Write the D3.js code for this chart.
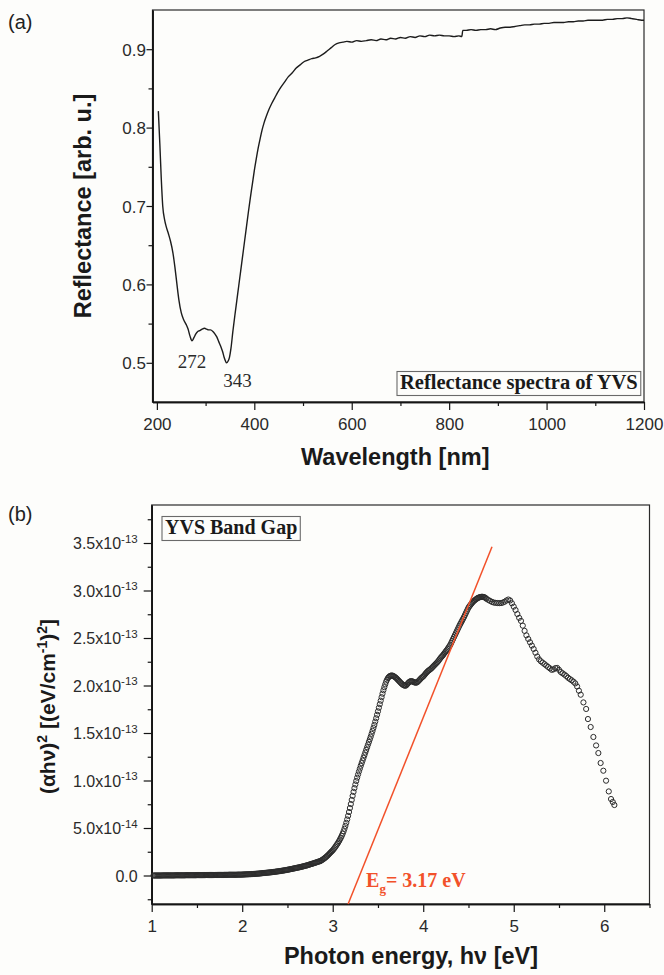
<!DOCTYPE html>
<html>
<head>
<meta charset="utf-8">
<script src="https://cdn.jsdelivr.net/npm/d3@7"></script>
<style>
  html, body { margin: 0; padding: 0; background: #fdfdfb; }
  svg { display: block; }
</style>
</head>
<body>
<svg id="fig" width="664" height="975"></svg>
<script>
// ---------- (a) diffuse reflectance spectrum: [wavelength nm, reflectance] ----------
const reflectanceSpectrum = [
  [203,.821],[206,.780],[209,.735],[212,.700],[216,.682],[219,.674],[224,.664],[228,.655],
  [233,.640],[237,.622],[241,.601],[245,.581],[250,.564],[255,.555],[260,.549],[264,.543],
  [268,.534],[272,.528],[276,.532],[280,.537],[284,.540],[288,.541],[293,.543],[298,.544],
  [302,.543],[306,.542],[310,.542],[315,.540],[319,.537],[323,.533],[327,.527],[331,.521],
  [335,.514],[338,.507],[341,.502],[343,.500],[346,.502],[349,.507],[352,.518],[356,.540],
  [360,.560],[364,.579],[368,.598],[372,.617],[376,.636],[380,.655],[384,.674],[388,.693],
  [392,.711],[396,.728],[400,.745],[404,.760],[408,.774],[412,.786],[416,.797],[420,.806],
  [425,.815],[430,.823],[436,.831],[442,.838],[448,.845],[455,.852],[462,.858],[470,.865],
  [478,.870],[486,.876],[494,.880],[502,.884],[510,.886],[518,.888],[526,.889],[534,.891],
  [542,.894],[550,.898],[558,.902],[566,.906],[574,.908],[582,.909],[590,.910],[600,.909],
  [610,.911],[620,.910],[630,.911],[640,.912],[650,.911],[660,.913],[670,.912],[680,.914],
  [690,.913],[700,.915],[710,.914],[720,.916],[730,.915],[740,.917],[750,.916],[760,.918],
  [770,.917],[780,.918],[790,.917],[800,.917],[810,.916],[820,.917],[826,.916],[828,.924],
  [835,.924],[845,.925],[855,.924],[865,.925],[875,.925],[885,.926],[895,.925],[905,.927],
  [915,.928],[925,.928],[935,.929],[945,.930],[955,.931],[965,.931],[975,.932],[985,.932],
  [995,.933],[1005,.933],[1015,.934],[1025,.934],[1035,.934],[1045,.935],[1055,.935],[1065,.936],
  [1075,.936],[1085,.937],[1095,.937],[1105,.937],[1115,.937],[1125,.938],[1135,.938],[1145,.939],
  [1155,.939],[1165,.940],[1175,.939],[1185,.938],[1195,.937],[1200,.937]
];
const reflectanceMinima = [272, 343];
const wavelengthTicks = [200, 400, 600, 800, 1000, 1200];
const wavelengthMinorTicks = [300, 500, 700, 900, 1100];
const reflectanceTicks = [0.5, 0.6, 0.7, 0.8, 0.9];
const reflectanceMinorTicks = [0.55, 0.65, 0.75, 0.85];

// ---------- (b) Tauc plot, (alpha*h*nu)^2 in units of 1e-13 ----------
// evenly sampled energy blocks: [first energy eV, step eV]
const lowGridEv = [1.02, 0.01];
const lowValues = [
  0,0,0,0,0,0,0,0,
  0,0,.001,.001,.001,.001,.001,.001,.001,.001,
  .001,.001,.001,.001,.001,.001,.002,.002,.002,.002,
  .002,.002,.002,.002,.002,.002,.002,.002,.003,.003,
  .003,.003,.003,.003,.003,.003,.003,.003,.003,.003,
  .004,.004,.004,.004,.004,.004,.004,.004,.004,.004,
  .005,.005,.005,.005,.005,.005,.005,.005,.005,.005,
  .006,.006,.006,.006,.006,.006,.006,.006,.006,.006,
  .007,.007,.007,.007,.007,.008,.008,.008,.008,.008,
  .008,.008,.008,.008,.008,.009,.009,.009,.009,.009,
  .010,.010,.011,.011,.012,.012,.013,.013,.014,.014,
  .015,.015,.016,.017,.017,.018,.019,.019,.020,.021,
  .022,.023,.024,.025,.026,.027,.028,.029,.030,.031,
  .032,.033,.034,.035,.036,.038,.039,.040,.042,.043,
  .044,.046,.047,.049,.050,.052,.053,.055,.057,.058,
  .060,.062,.064,.066,.068,.070,.072,.074,.076,.078,
  .080,.082,.084,.086,.088,.091,.093,.095,.098,.100,
  .103,.105,.108,.111,.114,.117,.120,.123,.126,.129,
  .132,.135,.139,.142,.145,.149
];
const edgeGridEv = [2.86, 0.01];
const edgeValues = [
  .150,.156,.162,.168,.175,.182,.190,.198,.207,.216,
  .226,.236,.246,.255,.265,.277,.290,.303,.317,.331,
  .346,.362,.380,.398,.418,.440,.465,.492,.522,.555,
  .590,.628,.668,.710,.752,.795,.838,.880,.920,.958,
  .995,1.030,1.063,1.095,1.125,1.155,1.183,1.210,1.238,1.266,
  1.294,1.322,1.350,1.378,1.406,1.434,1.462,1.492,1.522,1.553,
  1.585,1.620,1.655,1.692,1.728,1.766,1.803,1.840,1.877,1.914,
  1.950,1.982,2.012,2.040,2.062,2.078,2.090,2.098,2.103,2.105,
  2.104,2.100,2.094,2.087,2.080,2.070,2.060,2.050,2.040,2.030,
  2.020,2.012,2.005,2.000,1.998,2.000,2.010,2.022,2.032,2.040,
  2.045,2.046,2.043,2.038,2.034,2.031,2.030,2.032,2.040,2.050,
  2.060,2.070,2.080,2.088,2.095,2.106,2.118,2.130,2.140,2.150,
  2.158,2.165,2.172,2.180,2.190,2.200,2.210,2.220,2.230,2.240,
  2.250,2.262,2.275,2.288,2.300,2.310,2.322,2.335,2.348,2.360,
  2.372,2.386,2.400,2.415,2.430,2.450,2.470,2.490,2.510,2.530,
  2.550,2.570,2.590,2.610,2.630,2.648,2.666,2.684,2.702,2.720,
  2.740,2.760,2.780,2.800,2.820,2.833,2.846,2.858,2.870,2.880,
  2.890,2.898,2.906,2.913,2.920,2.924,2.928,2.931,2.933,2.934,
  2.933,2.931,2.927,2.920,2.912
];
const peakGridEv = [4.72, 0.02];
const peakValues = [
  2.900,2.890,2.880,2.873,2.870,2.868,2.867,2.868,2.873,2.882,
  2.895,2.905,2.895,2.865,2.830,2.795,2.752,2.712,2.680,2.630,
  2.575,2.528,2.490,2.455,2.420,2.385,2.345,2.305,2.275,2.255,
  2.240,2.225,2.210,2.195,2.180,2.165,2.170,2.183,2.185,2.165,
  2.142,2.128,2.115,2.100,2.082,2.068,2.055,2.040,2.022,1.990
];
const tailEnergyEv = [5.72,5.74,5.77,5.80,5.82,5.85,5.88,5.91,5.935,5.96,5.99,6.02,6.05,6.075,6.094,6.112];
const tailValues   = [1.945,1.903,1.822,1.753,1.647,1.563,1.458,1.369,1.289,1.184,1.103,0.998,0.885,0.805,0.774,0.742];

const bandGapEv = 3.17;             // linear fit meets the lower frame here
const fitUpperPoint = [4.76, 3.46];  // upper end of the drawn fit
const energyTicks = [1, 2, 3, 4, 5, 6];
const energyMinorTicks = [1.5, 2.5, 3.5, 4.5, 5.5, 6.5];
const taucTicks = [0, 0.5, 1, 1.5, 2, 2.5, 3, 3.5];
const taucMinorTicks = [-0.25, 0.25, 0.75, 1.25, 1.75, 2.25, 2.75, 3.25, 3.75];

// ---------- drawing ----------
const sans = '"Liberation Sans", Arial, Helvetica, sans-serif';
const serif = '"Liberation Serif", "Times New Roman", Times, serif';
const ink = '#151515';
const fitRed = '#f2512a';
const svg = d3.select('#fig');

function drawFrame(g, x, y, o) {
  const [x0, x1] = x.range();
  const [yb, yt] = y.range();
  g.append('rect').attr('x', x0).attr('y', yt).attr('width', x1 - x0).attr('height', yb - yt)
    .attr('fill', 'none').attr('stroke', '#2a2a2a').attr('stroke-width', 1.2);

  const bottomMinor = g.append('g').attr('transform', `translate(0,${yb})`)
    .call(d3.axisBottom(x).tickValues(o.xMinor).tickSize(4).tickSizeOuter(0).tickFormat(''));
  const bottom = g.append('g').attr('transform', `translate(0,${yb})`)
    .call(d3.axisBottom(x).tickValues(o.xMajor).tickSize(8).tickSizeOuter(0).tickFormat(o.xFmt));
  const leftMinor = g.append('g').attr('transform', `translate(${x0},0)`)
    .call(d3.axisLeft(y).tickValues(o.yMinor).tickSize(4).tickSizeOuter(0).tickFormat(''));
  const left = g.append('g').attr('transform', `translate(${x0},0)`)
    .call(d3.axisLeft(y).tickValues(o.yMajor).tickSize(o.yTick).tickSizeOuter(0).tickFormat(''));

  [bottomMinor, bottom, leftMinor, left].forEach(a => {
    a.select('.domain').attr('stroke', ink).attr('stroke-width', 1.6);
    a.selectAll('.tick line').attr('stroke', ink).attr('stroke-width', 1.2);
  });

  bottom.selectAll('.tick text')
    .attr('y', 28).attr('dy', 0)
    .attr('font-family', sans).attr('font-size', 17).attr('fill', '#2a2a2a');

  // y tick labels, with optional exponent part
  left.selectAll('.tick').each(function (d) {
    const lab = o.yFmt(d);
    const t = d3.select(this).append('text')
      .attr('x', -o.yLabelGap).attr('y', o.yLabelDy)
      .attr('text-anchor', 'end').attr('fill', '#2a2a2a')
      .attr('font-family', sans).attr('font-size', o.yFont);
    t.append('tspan').text(lab.base);
    if (lab.exp) {
      t.append('tspan').attr('font-size', 11.5).attr('dy', -6.5).text(lab.exp);
    }
  });
}

function framedLabel(g, text, x, baseline, size) {
  const box = g.append('g');
  const frame = box.append('rect');
  const t = box.append('text').attr('x', x).attr('y', baseline)
    .attr('font-family', serif).attr('font-weight', 'bold')
    .attr('font-size', size).attr('fill', '#1a1a1a').text(text);
  const bb = t.node().getBBox();
  frame.attr('x', bb.x - 3).attr('y', bb.y + 1).attr('width', bb.width + 6).attr('height', bb.height + 1)
    .attr('fill', 'none').attr('stroke', '#6a6a6a').attr('stroke-width', 1.1);
}

// ===== panel (a) =====
{
  const g = svg.append('g');
  const x = d3.scaleLinear().domain([191, 1200]).range([152.5, 644]);
  const y = d3.scaleLinear().domain([0.45, 0.95]).range([402, 10]);

  drawFrame(g, x, y, {
    xMajor: wavelengthTicks, xMinor: wavelengthMinorTicks, xFmt: d3.format('d'),
    yMajor: reflectanceTicks, yMinor: reflectanceMinorTicks,
    yFmt: d => ({ base: d3.format('.1f')(d) }),
    yTick: 6, yLabelGap: 6.5, yLabelDy: 6, yFont: 17
  });

  g.append('path').datum(reflectanceSpectrum)
    .attr('fill', 'none').attr('stroke', '#1c1c1c').attr('stroke-width', 1.4)
    .attr('stroke-linejoin', 'round')
    .attr('d', d3.line().curve(d3.curveMonotoneX).x(d => x(d[0])).y(d => y(d[1])));

  // wavelength labels under the two reflectance minima
  const minima = reflectanceMinima.map(w => reflectanceSpectrum.find(d => d[0] === w));
  const offsets = [[0, 27], [11, 24]];
  g.selectAll('text.minlab').data(minima).join('text')
    .attr('class', 'minlab')
    .attr('x', (d, i) => x(d[0]) + offsets[i][0])
    .attr('y', (d, i) => y(d[1]) + offsets[i][1])
    .attr('text-anchor', 'middle')
    .attr('font-family', serif).attr('font-size', 19).attr('fill', '#2a2a2a')
    .text(d => d[0]);

  framedLabel(g, 'Reflectance spectra of YVS', 400, 388.5, 20.5);

  g.append('text').attr('x', 8).attr('y', 29)
    .attr('font-family', sans).attr('font-size', 20).attr('fill', '#222').text('(a)');

  g.append('text').attr('x', (x.range()[0] + x.range()[1]) / 2 - 3).attr('y', 465)
    .attr('text-anchor', 'middle').attr('font-family', sans).attr('font-weight', 'bold')
    .attr('font-size', 23.5).attr('fill', '#1a1a1a').text('Wavelength [nm]');

  g.append('text').attr('transform', `translate(91,${(y.range()[0] + y.range()[1]) / 2}) rotate(-90)`)
    .attr('text-anchor', 'middle').attr('font-family', sans).attr('font-weight', 'bold')
    .attr('font-size', 23.5).attr('fill', '#1a1a1a').text('Reflectance [arb. u.]');
}

// ===== panel (b) =====
{
  const g = svg.append('g');
  const x = d3.scaleLinear().domain([1, 6.5]).range([151.7, 649.5]);
  const y = d3.scaleLinear().domain([-0.3, 3.9]).range([904, 505]);

  const taucFmt = d => {
    if (d === 0) return { base: '0.0' };
    if (d < 1) return { base: d3.format('.1f')(d * 10) + 'x10', exp: '-14' };
    return { base: d3.format('.1f')(d) + 'x10', exp: '-13' };
  };

  drawFrame(g, x, y, {
    xMajor: energyTicks, xMinor: energyMinorTicks, xFmt: d3.format('d'),
    yMajor: taucTicks, yMinor: taucMinorTicks, yFmt: taucFmt,
    yTick: 8, yLabelGap: 14, yLabelDy: 5.5, yFont: 16
  });

  const blocks = [[lowGridEv, lowValues], [edgeGridEv, edgeValues], [peakGridEv, peakValues]];
  const points = blocks.flatMap(([grid, vals]) => vals.map((v, i) => [grid[0] + i * grid[1], v]))
    .concat(tailEnergyEv.map((e, i) => [e, tailValues[i]]));

  g.append('g').selectAll('circle').data(points).join('circle')
    .attr('cx', d => x(d[0])).attr('cy', d => y(d[1])).attr('r', 2.6)
    .attr('fill', 'none').attr('stroke', '#2c2c2c').attr('stroke-width', 1.0);

  // linear extrapolation of the absorption edge
  const fit = [[bandGapEv, y.domain()[0]], fitUpperPoint];
  g.append('path').datum(fit)
    .attr('fill', 'none').attr('stroke', fitRed).attr('stroke-width', 1.5)
    .attr('d', d3.line().x(d => x(d[0])).y(d => y(d[1])));

  const eg = g.append('text')
    .attr('x', x(bandGapEv) + 18).attr('y', y.range()[0] - 17)
    .attr('font-family', serif).attr('font-weight', 'bold').attr('font-size', 20).attr('fill', fitRed);
  eg.append('tspan').text('E');
  eg.append('tspan').attr('font-size', 13).attr('dy', 6).text('g');
  eg.append('tspan').attr('dy', -6).text(`= ${bandGapEv} eV`);

  framedLabel(g, 'YVS Band Gap', 165, 533.5, 20);

  g.append('text').attr('x', 8).attr('y', 521)
    .attr('font-family', sans).attr('font-size', 20).attr('fill', '#222').text('(b)');

  g.append('text').attr('x', 411).attr('y', 964)
    .attr('text-anchor', 'middle').attr('font-family', sans).attr('font-weight', 'bold')
    .attr('font-size', 23.5).attr('fill', '#1a1a1a').text('Photon energy, hν [eV]');

  const yl = g.append('text').attr('transform', `translate(55,${(y.range()[0] + y.range()[1]) / 2 + 2}) rotate(-90)`)
    .attr('text-anchor', 'middle').attr('font-family', sans).attr('font-weight', 'bold')
    .attr('font-size', 21).attr('fill', '#1a1a1a');
  yl.append('tspan').text('(αhν)');
  yl.append('tspan').attr('font-size', 14).attr('dy', -8).text('2');
  yl.append('tspan').attr('dy', 8).text(' [(eV/cm');
  yl.append('tspan').attr('font-size', 14).attr('dy', -8).text('-1');
  yl.append('tspan').attr('dy', 8).text(')');
  yl.append('tspan').attr('font-size', 14).attr('dy', -8).text('2');
  yl.append('tspan').attr('dy', 8).text(']');
}
</script>
</body>
</html>
